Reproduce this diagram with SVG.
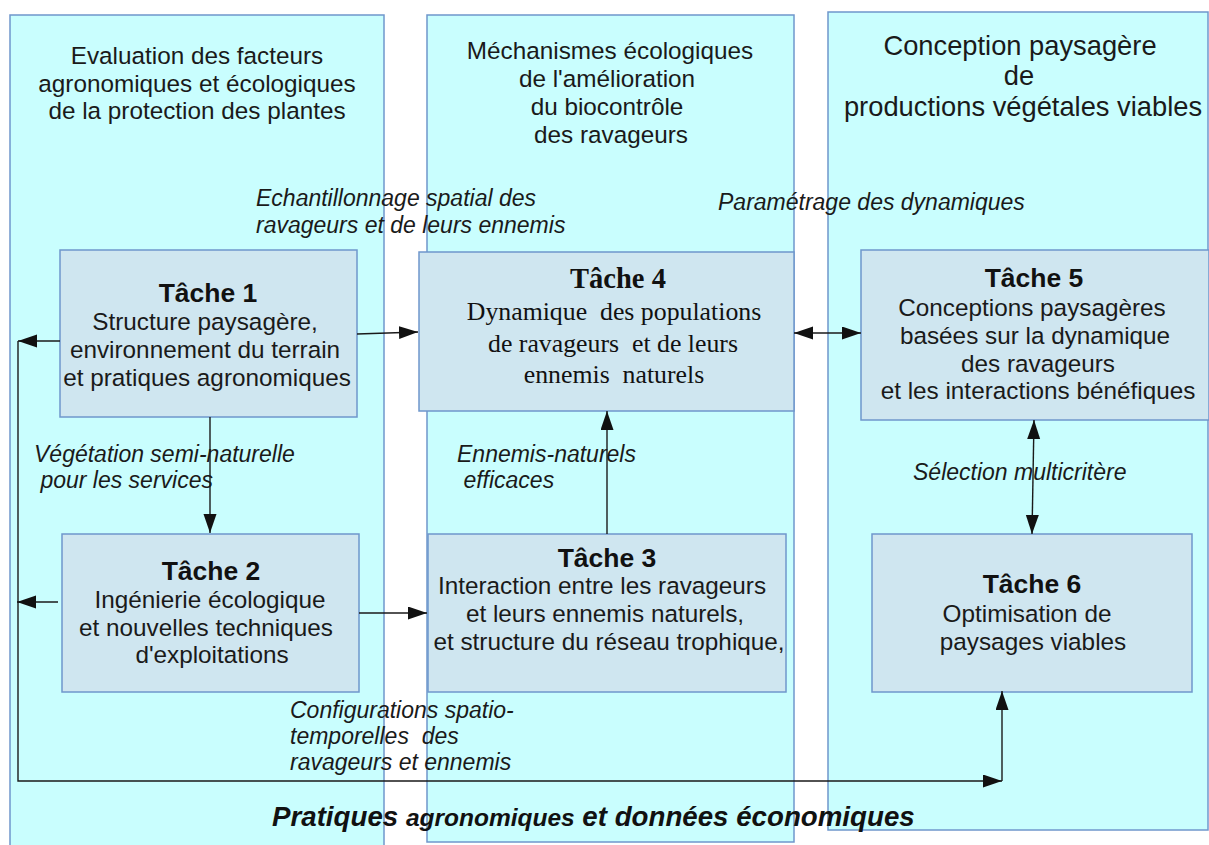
<svg xmlns="http://www.w3.org/2000/svg" width="1209" height="845" viewBox="0 0 1209 845">
<style>
.col{fill:#c9fefe;stroke:#6f97cc;stroke-width:1.5}
.node{fill:#cfe6f0;stroke:#6f97cc;stroke-width:1.5}
.hd{font-family:"Liberation Sans",Arial,sans-serif;font-size:24.3px;fill:#1a1a1a;text-anchor:middle}
.hd3{font-family:"Liberation Sans",Arial,sans-serif;font-size:27.3px;fill:#1a1a1a;text-anchor:middle}
.tt{font-family:"Liberation Sans",Arial,sans-serif;font-size:26.5px;font-weight:bold;fill:#111;text-anchor:middle}
.bd{font-family:"Liberation Sans",Arial,sans-serif;font-size:24.3px;fill:#1a1a1a;text-anchor:middle}
.ttS{font-family:"Liberation Serif","Times New Roman",serif;font-size:28.5px;font-weight:bold;fill:#111;text-anchor:middle}
.bdS{font-family:"Liberation Serif","Times New Roman",serif;font-size:25.8px;fill:#111;text-anchor:middle;white-space:pre}
.lb{font-family:"Liberation Sans",Arial,sans-serif;font-size:23px;font-style:italic;fill:#1a1a1a;white-space:pre}
.ft{font-family:"Liberation Sans",Arial,sans-serif;font-size:27.7px;font-style:italic;font-weight:bold;fill:#111}
.cn{fill:none;stroke:#1a1a1a;stroke-width:1.4}
</style>
<defs>
<marker id="ah" markerUnits="userSpaceOnUse" markerWidth="20" markerHeight="14" refX="19" refY="6.5" orient="auto-start-reverse">
<path d="M0,0 L19,6.5 L0,13 z" fill="#111"/>
</marker>
</defs>

<g id="columns">
<g id="col1">
<rect class="col" x="10" y="15" width="374" height="845"/>
<text class="hd" x="197" y="64">Evaluation des facteurs</text>
<text class="hd" x="197" y="92">agronomiques et écologiques</text>
<text class="hd" x="197" y="119">de la protection des plantes</text>
</g>
<g id="col2">
<rect class="col" x="427" y="15" width="367" height="827"/>
<text class="hd" x="610" y="59">Méchanismes écologiques</text>
<text class="hd" x="607" y="87">de l'amélioration</text>
<text class="hd" x="607" y="115">du biocontrôle</text>
<text class="hd" x="611" y="143">des ravageurs</text>
</g>
<g id="col3">
<rect class="col" x="828" y="12" width="380" height="818"/>
<text class="hd3" x="1020" y="55">Conception paysagère</text>
<text class="hd3" x="1019" y="85">de</text>
<text class="hd3" x="1023" y="116">productions végétales viables</text>
</g>
</g>

<g id="tache1">
<rect class="node" x="60" y="250" width="297" height="167"/>
<text class="tt" x="208" y="302">Tâche 1</text>
<text class="bd" x="205" y="330">Structure paysagère,</text>
<text class="bd" x="205" y="358">environnement du terrain</text>
<text class="bd" x="207" y="386">et pratiques agronomiques</text>
</g>

<g id="tache2">
<rect class="node" x="62" y="534" width="297" height="158"/>
<text class="tt" x="211" y="580">Tâche 2</text>
<text class="bd" x="210" y="608">Ingénierie écologique</text>
<text class="bd" x="206" y="636">et nouvelles techniques</text>
<text class="bd" x="212" y="663">d'exploitations</text>
</g>

<g id="tache3">
<rect class="node" x="428" y="534" width="358" height="158"/>
<text class="tt" x="607" y="567">Tâche 3</text>
<text class="bd" x="602" y="594">Interaction entre les ravageurs</text>
<text class="bd" x="605" y="622">et leurs ennemis naturels,</text>
<text class="bd" x="609" y="650">et structure du réseau trophique,</text>
</g>

<g id="tache4">
<rect class="node" x="419" y="252" width="375" height="159"/>
<text class="ttS" x="618" y="288">Tâche 4</text>
<text class="bdS" x="614" y="320" xml:space="preserve">Dynamique  des populations</text>
<text class="bdS" x="613" y="352" xml:space="preserve">de ravageurs  et de leurs</text>
<text class="bdS" x="614" y="383" xml:space="preserve">ennemis  naturels</text>
</g>

<g id="tache5">
<rect class="node" x="861" y="250" width="348" height="170"/>
<text class="tt" x="1034" y="287">Tâche 5</text>
<text class="bd" x="1032" y="316">Conceptions paysagères</text>
<text class="bd" x="1035" y="344">basées sur la dynamique</text>
<text class="bd" x="1038" y="372">des ravageurs</text>
<text class="bd" x="1038" y="399">et les interactions bénéfiques</text>
</g>

<g id="tache6">
<rect class="node" x="872" y="534" width="320" height="158"/>
<text class="tt" x="1032" y="593">Tâche 6</text>
<text class="bd" x="1027" y="622">Optimisation de</text>
<text class="bd" x="1033" y="650">paysages viables</text>
</g>

<g id="connectors">
<line class="cn" x1="60" y1="341" x2="18" y2="341" marker-end="url(#ah)"/>
<path class="cn" d="M18,341 L18,781 L1002,781" marker-end="url(#ah)"/>
<line class="cn" x1="1002" y1="781" x2="1002" y2="691" marker-end="url(#ah)"/>
<line class="cn" x1="58" y1="602" x2="17" y2="602" marker-end="url(#ah)"/>
<line class="cn" x1="357" y1="334" x2="418" y2="332" marker-end="url(#ah)"/>
<line class="cn" x1="210" y1="417" x2="210" y2="533" marker-end="url(#ah)"/>
<line class="cn" x1="359" y1="613" x2="427" y2="613" marker-end="url(#ah)"/>
<line class="cn" x1="607" y1="534" x2="607" y2="411" marker-end="url(#ah)"/>
<line class="cn" x1="794" y1="333" x2="861" y2="333" marker-start="url(#ah)" marker-end="url(#ah)"/>
<line class="cn" x1="1034" y1="420" x2="1032" y2="534" marker-start="url(#ah)" marker-end="url(#ah)"/>
</g>

<g id="labels">
<text class="lb" x="256" y="206">Echantillonnage spatial des</text>
<text class="lb" x="256" y="233">ravageurs et de leurs ennemis</text>
<text class="lb" x="718" y="210">Paramétrage des dynamiques</text>
<text class="lb" x="34" y="462">Végétation semi-naturelle</text>
<text class="lb" x="34" y="488" xml:space="preserve"> pour les services</text>
<text class="lb" x="457" y="462">Ennemis-naturels</text>
<text class="lb" x="457" y="488" xml:space="preserve"> efficaces</text>
<text class="lb" x="913" y="480">Sélection multicritère</text>
<text class="lb" x="290" y="718">Configurations spatio-</text>
<text class="lb" x="290" y="744" xml:space="preserve">temporelles  des</text>
<text class="lb" x="290" y="770">ravageurs et ennemis</text>
<text class="ft" x="272" y="826">Pratiques <tspan font-size="24.5px">agronomiques</tspan> et données économiques</text>
</g>
</svg>
